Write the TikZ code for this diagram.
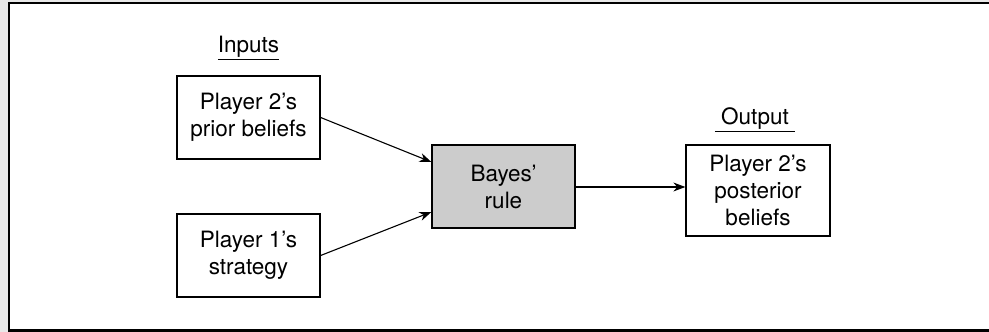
\documentclass[tikz,border=0pt]{standalone}
\usepackage{fontspec}
\setmainfont{TeX Gyre Heros}
\usetikzlibrary{arrows.meta,calc}
\begin{document}
\begin{tikzpicture}[x=1pt,y=1pt,
  box/.style={draw, line width=1.3pt, minimum width=143pt, minimum height=83pt, align=center, inner sep=0pt, font=\fontsize{22.5}{27}\selectfont},
  lbl/.style={font=\fontsize{22.5}{27}\selectfont, inner sep=0pt, anchor=base},
  arr/.style={-{Stealth[length=12pt,width=9pt]}, line width=1.1pt}]
\useasboundingbox (0,0) rectangle (989,332);
\fill[black!9] (0,0) rectangle (989,332);
\fill[white] (9,1.5) rectangle (995,329);
\draw[line width=2.2pt] (995,329) -- (9,329) -- (9,1.5) -- (995,1.5);
\node[box] (prior) at (248.5,214.5) {Player 2’s\\prior beliefs};
\node[box] (strat) at (248.5,76.5) {Player 1’s\\strategy};
\node[box, fill=black!20] (bayes) at (503.5,145.5) {Bayes’\\rule};
\node[box, minimum width=144pt, minimum height=91pt] (post) at (758,141.5) {Player 2’s\\posterior\\beliefs};
\node[lbl] (inputs) at (248.5,279) {\underline{Inputs}};
\node[lbl] (output) at (755,207) {\underline{\ Output\ }};
\coordinate (bl1) at ($(bayes.west)+(0,24.5)$);
\coordinate (bl2) at ($(bayes.west)+(0,-25.5)$);
\coordinate (br) at ($(bayes.east)+(0,-0.5)$);
\draw[arr] (prior.east) -- (bl1);
\draw[arr] (strat.east) -- (bl2);
\draw[arr] (br) -- (br -| post.west);
\end{tikzpicture}
\end{document}
